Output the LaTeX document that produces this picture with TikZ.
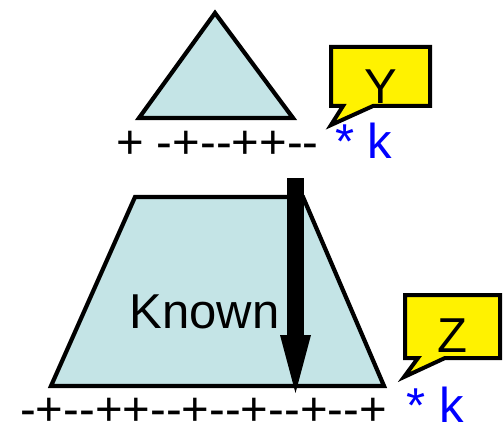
\documentclass[tikz,border=0pt]{standalone}
\usepackage{fontspec}
\setmainfont{Liberation Sans}[Ligatures=TeXOff]
\usetikzlibrary{arrows.meta}

\definecolor{paleblue}{RGB}{196,228,230}

\begin{document}
\begin{tikzpicture}[x=1pt,y=-1pt,
  outline/.style={line width=4.2pt,line join=miter,fill=paleblue},
  bubble/.style={line width=4pt,line join=miter,fill=yellow},
  big/.style={font=\fontsize{49}{58}\selectfont,inner sep=0pt},
  signs/.style={font=\fontsize{47.3}{56}\selectfont,inner sep=0pt,anchor=base west}]
\useasboundingbox (0,0) rectangle (504,428);
\def\shaft{295.5}
% points of the two shapes
\coordinate (A) at (215,13);
\coordinate (B) at (293,118);
\coordinate (C) at (139,118);
\coordinate (P) at (135,197);
\coordinate (Q) at (303,197);
\coordinate (R) at (384,386);
\coordinate (S) at (51,386);

\draw[outline] (A) -- (B) -- (C) -- cycle;
\draw[outline] (P) -- (Q) -- (R) -- (S) -- cycle;

% speech bubbles
\draw[bubble] (331,47) -- (430,47) -- (430,106) -- (373,106) -- (331,125)
  -- (343,106) -- (331,106) -- cycle;
\draw[bubble] (405,295) -- (500,295) -- (500,358) -- (445,358) -- (404,377)
  -- (418,358) -- (405,358) -- cycle;
\node[big,anchor=base] (ylab) at (380.5,103) {Y};
\node[big,anchor=base] (zlab) at (452.5,352) {Z};

% labels
\node[big,anchor=base west] (known) at (129.5,328) {Known};
\node[signs] (topseq) at (116,158) {+ -+--++--};
\node[signs] (botseq) at (20,425) {-+--++--+--+--+--+};
\node[big,anchor=base west,text=blue] (topk) at (335,158) {* k};
\node[big,anchor=base west,text=blue] (botk) at (406.5,422) {* k};

% arrow
\coordinate (start) at (\shaft,178);
\coordinate (tip) at (\shaft,393);
\draw[line width=17pt,-{Triangle[length=58pt,width=31pt,line width=0pt]}] (start) -- (tip);
\end{tikzpicture}
\end{document}
